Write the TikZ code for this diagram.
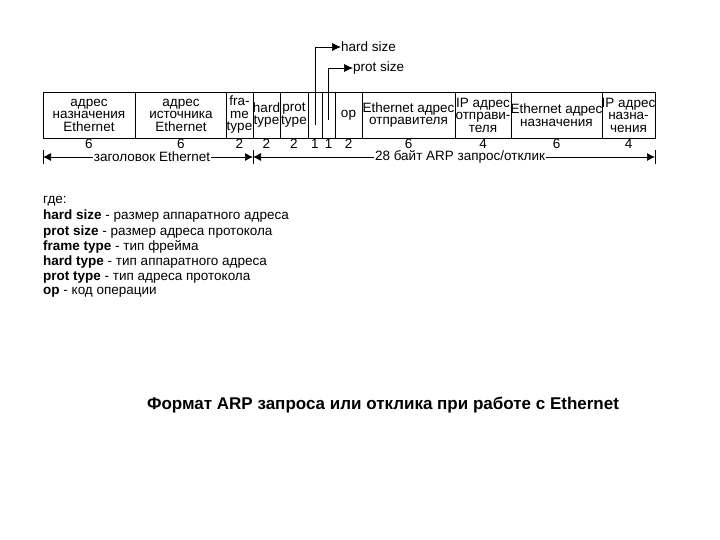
\documentclass[tikz,border=0pt]{standalone}
\usepackage{fontspec}
\setmainfont{Liberation Sans}
\usetikzlibrary{arrows.meta}
\begin{document}
\begin{tikzpicture}[x=1pt,y=-1pt,
  cell/.style={inner sep=0pt,align=center,font=\fontsize{13.5}{12.5}\selectfont},
  num/.style={inner sep=0pt,font=\fontsize{13.5}{13}\selectfont},
  leg/.style={inner sep=0pt,anchor=west,font=\fontsize{13.5}{13}\selectfont},
  dim/.style={line width=0.7pt,-{Latex[length=8pt,width=8pt]}},
  ptr/.style={line width=0.7pt,-{Latex[length=9pt,width=8pt]}}]
\useasboundingbox (0,0) rectangle (720,540);
% table
\draw[line width=0.7pt] (43,92) rectangle (655,138);
\foreach \x in {135,226,253,280,308,322,335,362,455,511,602}
  \draw[line width=0.7pt] (\x,92) -- (\x,138);
\node[cell] (c1) at (89,115) {адрес\\назначения\\Ethernet};
\node[cell] (c2) at (181,115) {адрес\\источника\\Ethernet};
\node[cell] (c3) at (239.5,115) {fra-\\me\\type};
\node[cell] (c4) at (266.5,115) {hard\\type};
\node[cell] (c5) at (294,115) {prot\\type};
\node[cell] (c8) at (348.5,115) {op};
\node[cell] (c9) at (408.5,115) {Ethernet адрес\\отправителя};
\node[cell] (c10) at (483,115) {IP адрес\\отправи-\\теля};
\node[cell] (c11) at (556.5,115) {Ethernet адрес\\назначения};
\node[cell] (c12) at (628.5,115) {IP адрес\\назна-\\чения};
% numbers
\foreach \x/\t [count=\i] in {89/6,181/6,239.5/2,266.5/2,294/2,315/1,328.5/1,348.5/2,408.5/6,483/4,556.5/6,628.5/4}
  \node[num] (n\i) at (\x,144) {\t};
% dimension lines
\coordinate (a0) at (43,157); \coordinate (a1) at (253,157); \coordinate (a2) at (655,157);
\draw[line width=0.7pt] (43,150) -- (43,164);
\draw[line width=0.7pt] (253,150) -- (253,164);
\draw[line width=0.7pt] (655,150) -- (655,164);
\node[num,fill=white,inner sep=1pt] (l1) at (152,157) {заголовок Ethernet};
\node[num,fill=white,inner sep=1pt] (l2) at (460,157) {28 байт ARP запрос/отклик};
\draw[dim] (l1.west) -- (a0);
\draw[dim] (l1.east) -- (a1);
\draw[dim] (l2.west) -- (a1);
\draw[dim] (l2.east) -- (a2);
% pointers
\coordinate (p1) at (315,125); \coordinate (p2) at (328,120);
\node[leg] (hs) at (341,47) {hard size};
\node[leg] (ps) at (353,68) {prot size};
\draw[ptr] (p1) |- (hs.west);
\draw[ptr] (p2) |- (ps.west);
% legend
\node[leg] (g0) at (43,201) {где:};
\node[leg] (g1) at (43,216) {\textbf{hard size} - размер аппаратного адреса};
\node[leg] (g2) at (43,232) {\textbf{prot size} - размер адреса протокола};
\node[leg] (g3) at (43,247) {\textbf{frame type} - тип фрейма};
\node[leg] (g4) at (43,262) {\textbf{hard type} - тип аппаратного адреса};
\node[leg] (g5) at (43,277) {\textbf{prot type} - тип адреса протокола};
\node[leg] (g6) at (43,292) {\textbf{op} - код операции};
\node[inner sep=0pt,font=\bfseries\fontsize{17}{19}\selectfont] (cap) at (383,405) {Формат ARP запроса или отклика при работе с Ethernet};
\end{tikzpicture}
\end{document}
